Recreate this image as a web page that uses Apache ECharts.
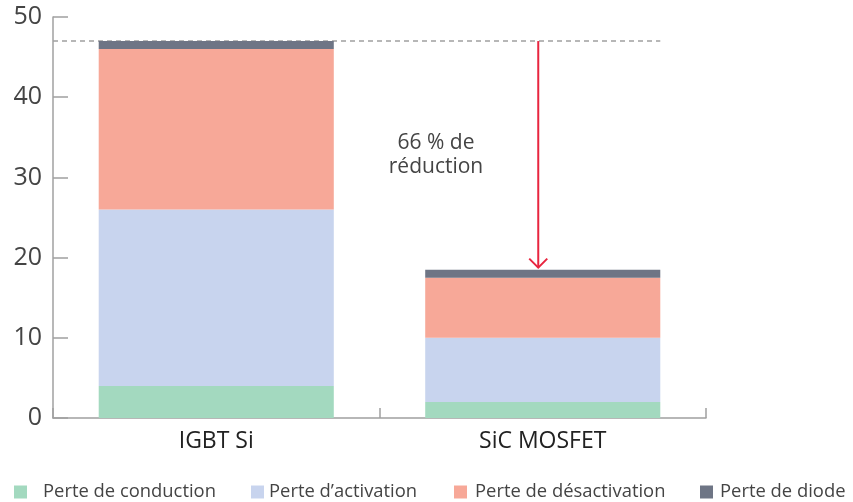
<!DOCTYPE html>
<html>
<head>
<meta charset="utf-8">
<script src="https://cdn.jsdelivr.net/npm/echarts@6/dist/echarts.min.js"></script>
<style>
  html, body { margin: 0; padding: 0; background: #fff; }
  #chart { width: 853px; height: 502px; }
</style>
</head>
<body>
<div id="chart"></div>
<script>
// Power loss breakdown per device technology
const categories = ['IGBT Si', 'SiC MOSFET'];
const conduction = [4, 2];
const activation = [22, 8];
const desactivation = [20, 7.5];
const diode = [1, 1];
const seriesNames = ['Perte de conduction', 'Perte d\u2019activation', 'Perte de d\u00e9sactivation', 'Perte de diode'];
const colors = ['#a3d9bf', '#c8d4ee', '#f7a898', '#6e7585'];
const yTicks = { min: 0, max: 50, interval: 10 };
const reductionText = '66 % de\nr\u00e9duction';

const FONT = '"Open Sans", "Noto Sans", sans-serif';
const chart = echarts.init(document.getElementById('chart'));

const totals = categories.map((_, i) => conduction[i] + activation[i] + desactivation[i] + diode[i]);

const mkSeries = (name, data, color) => ({
  name, type: 'bar', stack: 'loss', data, barWidth: '72%',
  itemStyle: { color }, emphasis: { disabled: true }, z: 2
});

// one legend block per entry so each keeps its own slot along the bottom
const legendLefts = [14, 251, 454, 700];
const legendTextPad = [11, 0, 3, 2];
const legends = seriesNames.map((name, i) => ({
  top: 483, left: legendLefts[i], itemWidth: 13, itemHeight: 13,
  icon: 'rect', padding: 0,
  textStyle: { fontSize: 18.4, color: '#444', fontFamily: FONT, padding: [0, 0, 0, legendTextPad[i]] },
  data: [name]
}));

chart.setOption({
  animation: false,
  textStyle: { fontFamily: FONT },
  grid: { left: 53, right: 147, top: 17, bottom: 84, containLabel: false },
  legend: legends,
  xAxis: {
    type: 'category', data: categories,
    axisLine: { lineStyle: { color: '#a0a0a0', width: 1.5 } },
    axisTick: { show: true, inside: true, length: 10, lineStyle: { color: '#a0a0a0', width: 1.5 } },
    axisLabel: { fontSize: 23, color: '#222', margin: 12, fontFamily: FONT }
  },
  yAxis: {
    type: 'value', min: yTicks.min, max: yTicks.max, interval: yTicks.interval,
    splitLine: { show: false },
    axisLine: { show: true, lineStyle: { color: '#a0a0a0', width: 1.5 } },
    axisTick: { show: true, inside: true, length: 15, lineStyle: { color: '#a0a0a0', width: 1.5 } },
    axisLabel: { fontSize: 25, color: '#444', margin: 11, fontFamily: FONT }
  },
  series: [
    mkSeries(seriesNames[0], conduction, colors[0]),
    mkSeries(seriesNames[1], activation, colors[1]),
    mkSeries(seriesNames[2], desactivation, colors[2]),
    mkSeries(seriesNames[3], diode, colors[3])
  ]
});

// Annotation: reference dashed line, reduction arrow and label, placed through the axes
function drawAnnotations() {
  const x0 = chart.convertToPixel({ xAxisIndex: 0 }, categories[0]);
  const x1 = chart.convertToPixel({ xAxisIndex: 0 }, categories[1]);
  const halfBar = (x1 - x0) * 0.72 / 2;
  const yTop = chart.convertToPixel({ yAxisIndex: 0 }, totals[0]);
  const yLow = chart.convertToPixel({ yAxisIndex: 0 }, totals[1]);
  const gridLeft = x0 - (x1 - x0) / 2;
  const arrowX = x1 - 4.5;
  const textX = ((x0 + halfBar) + arrowX) / 2;
  const textY = chart.convertToPixel({ yAxisIndex: 0 }, 32.8);
  chart.setOption({
    graphic: [
      {
        type: 'line', z: 1,
        shape: { x1: gridLeft, y1: yTop, x2: x1 + halfBar, y2: yTop },
        style: { stroke: '#a0a0a0', lineWidth: 1.5, lineDash: [5, 4] }
      },
      {
        type: 'line', z: 5,
        shape: { x1: arrowX, y1: yTop, x2: arrowX, y2: yLow - 2 },
        style: { stroke: '#e8253f', lineWidth: 2 }
      },
      {
        type: 'polyline', z: 5,
        shape: { points: [[arrowX - 9, yLow - 11], [arrowX, yLow - 2], [arrowX + 9, yLow - 11]] },
        style: { stroke: '#e8253f', lineWidth: 2, fill: null }
      },
      {
        type: 'text', z: 5, x: textX, y: textY,
        style: {
          text: reductionText, fill: '#444', fontSize: 21, fontFamily: FONT,
          align: 'center', verticalAlign: 'middle', lineHeight: 24
        }
      }
    ]
  });
}
drawAnnotations();
</script>
</body>
</html>
